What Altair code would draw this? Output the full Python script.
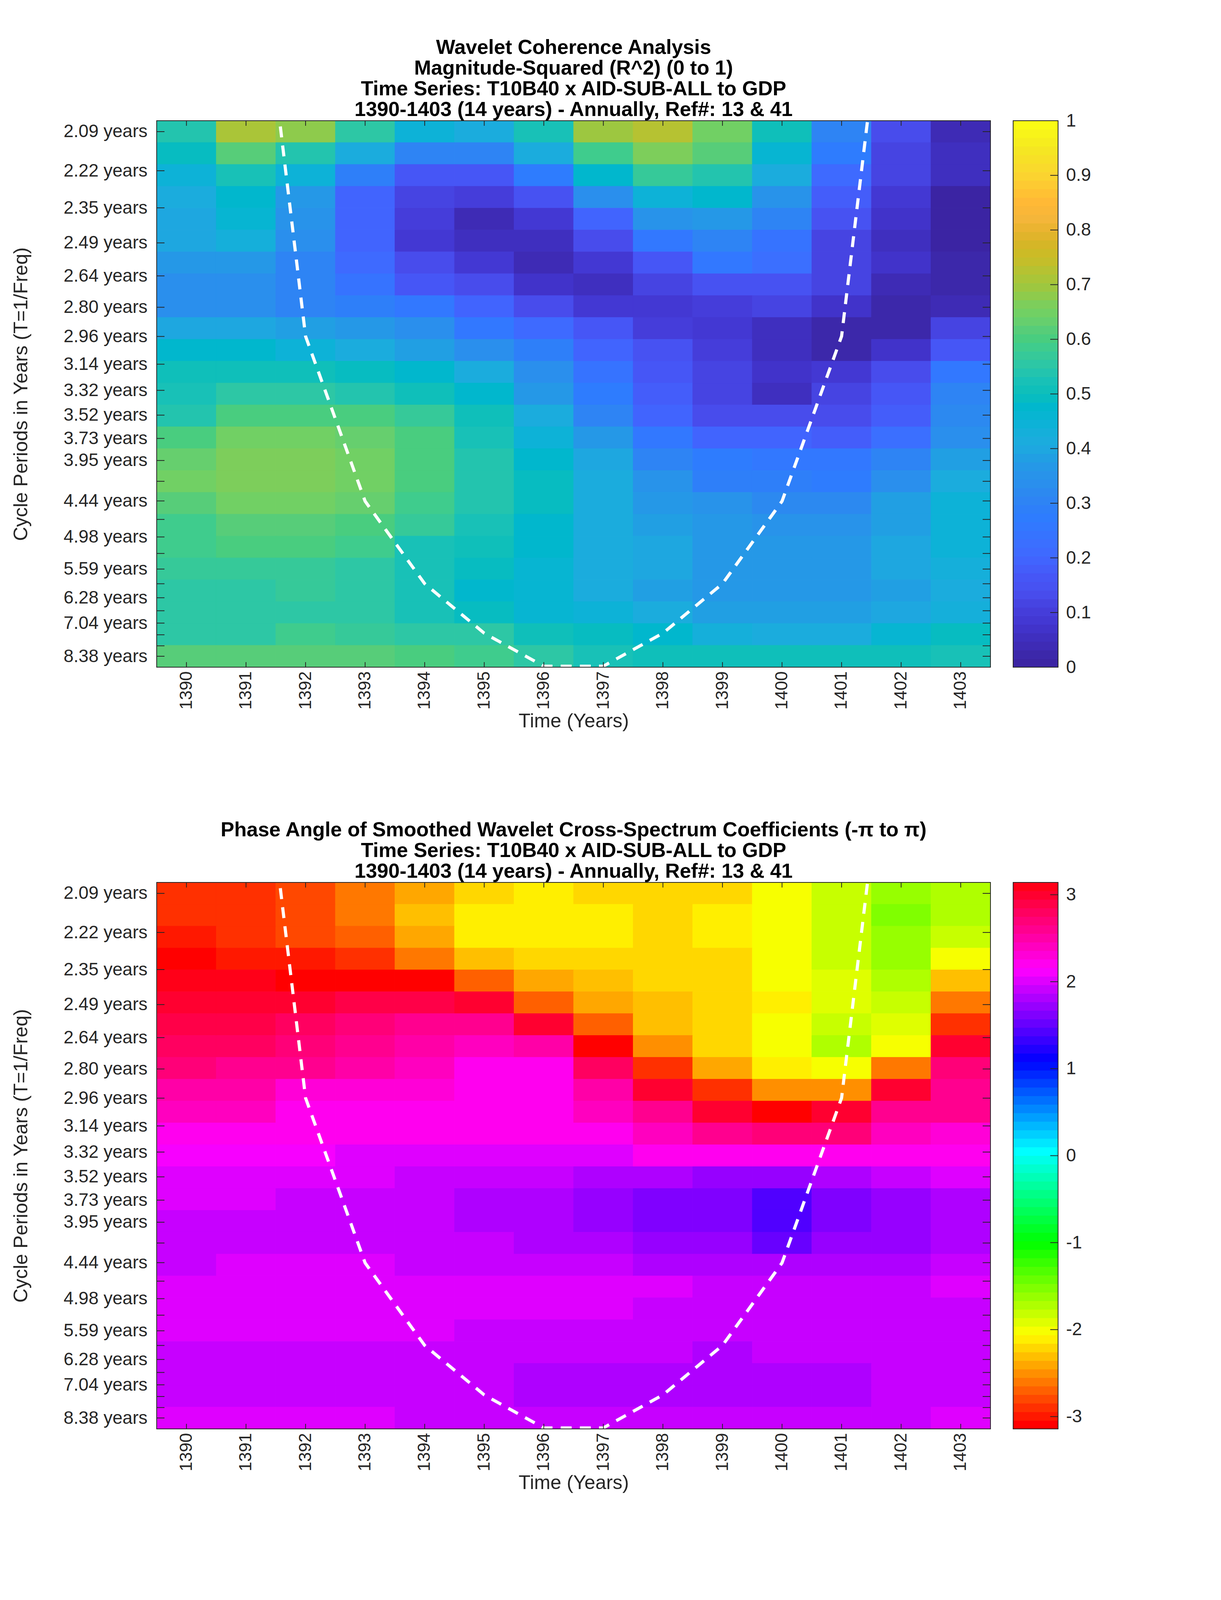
import math
import numpy as np
import pandas as pd
import altair as alt

FONT = "Liberation Sans"
INK = "#262626"
# The photograph stops near 4096 px tall, so the plots are laid out to keep every text inside it.
W, H = 2134, 1399

years = list(range(1390, 1404))
periods = [2.094, 2.218, 2.350, 2.490, 2.638, 2.796, 2.961, 3.137, 3.323, 3.521, 3.730, 3.952, 4.187,
           4.436, 4.699, 4.979, 5.275, 5.589, 5.921, 6.276, 6.646, 7.041, 7.460, 7.904, 8.376]
labelled = [2.094, 2.218, 2.350, 2.490, 2.638, 2.796, 2.961, 3.137, 3.323, 3.521, 3.730, 3.952,
            4.436, 4.979, 5.589, 6.276, 7.041, 8.376]

coherence = [
 [.54,.71,.68,.55,.44,.42,.53,.69,.72,.65,.50,.31,.13,.04],
 [.49,.61,.54,.41,.31,.31,.42,.58,.66,.61,.46,.27,.12,.05],
 [.44,.53,.45,.29,.17,.17,.28,.47,.57,.54,.41,.21,.12,.05],
 [.42,.47,.36,.20,.12,.10,.15,.33,.45,.47,.35,.18,.09,.01],
 [.40,.46,.35,.19,.10,.04,.08,.19,.35,.37,.30,.15,.07,.01],
 [.40,.43,.33,.19,.09,.06,.06,.13,.26,.31,.24,.11,.05,.01],
 [.36,.37,.31,.21,.14,.09,.04,.09,.17,.25,.22,.11,.07,.03],
 [.33,.33,.30,.24,.17,.14,.07,.05,.11,.15,.15,.11,.04,.03],
 [.33,.34,.30,.29,.26,.19,.13,.08,.09,.10,.11,.07,.02,.04],
 [.40,.40,.38,.36,.33,.26,.21,.16,.10,.09,.06,.03,.03,.12],
 [.47,.47,.45,.42,.38,.33,.29,.19,.15,.10,.05,.03,.07,.17],
 [.50,.51,.50,.49,.47,.41,.33,.24,.17,.12,.07,.09,.14,.25],
 [.53,.55,.55,.54,.51,.47,.36,.28,.18,.12,.06,.12,.16,.30],
 [.54,.60,.60,.60,.57,.51,.41,.31,.20,.13,.13,.14,.18,.32],
 [.60,.65,.65,.63,.60,.53,.45,.36,.25,.19,.19,.18,.23,.33],
 [.63,.67,.67,.65,.60,.54,.48,.40,.31,.28,.26,.26,.31,.39],
 [.65,.67,.67,.65,.60,.54,.49,.41,.35,.29,.29,.28,.33,.42],
 [.62,.65,.65,.63,.58,.54,.49,.42,.37,.35,.32,.32,.38,.44],
 [.59,.62,.62,.60,.57,.53,.48,.42,.39,.37,.35,.35,.39,.44],
 [.58,.60,.60,.58,.53,.51,.47,.42,.40,.37,.36,.36,.40,.44],
 [.57,.57,.57,.55,.53,.49,.46,.42,.40,.37,.36,.36,.40,.43],
 [.55,.55,.57,.55,.53,.48,.46,.42,.39,.37,.36,.36,.39,.42],
 [.55,.55,.55,.55,.53,.49,.46,.44,.41,.39,.39,.39,.40,.43],
 [.56,.56,.58,.57,.56,.55,.51,.49,.47,.43,.41,.41,.46,.49],
 [.61,.62,.62,.62,.60,.59,.55,.53,.51,.50,.50,.50,.50,.53],
]

# phase read as the colour bin (0-63) of the -pi..pi bar
phase_bins = [
 [2,2,3,5,7,9,10,9,9,9,11,13,15,14],
 [2,2,3,5,8,10,10,10,9,10,11,13,16,14],
 [1,2,3,4,7,10,10,10,9,10,11,13,15,13],
 [0,1,1,2,5,8,9,9,9,9,11,13,15,11],
 [63,63,0,0,0,4,7,8,9,9,11,12,14,8],
 [62,62,62,61,61,62,4,7,8,9,10,12,13,5],
 [61,61,60,59,58,58,62,4,8,9,11,13,12,2],
 [60,60,59,58,57,56,57,0,6,9,11,14,11,62],
 [59,58,58,57,56,54,54,60,2,7,10,11,5,59],
 [57,57,55,55,55,54,54,57,62,2,6,6,62,58],
 [56,56,54,54,54,54,54,56,58,62,0,62,58,58],
 [54,54,54,54,54,54,54,54,56,58,59,59,56,55],
 [53,53,53,52,52,52,52,52,54,54,54,54,54,54],
 [52,52,52,52,51,51,51,50,50,49,49,50,51,52],
 [52,52,51,51,51,50,50,49,48,48,46,48,49,50],
 [51,51,51,51,51,50,50,49,48,48,46,48,49,50],
 [51,51,51,51,51,51,50,50,49,49,47,49,49,50],
 [51,52,52,52,51,51,51,51,50,50,50,50,50,51],
 [52,52,52,52,52,52,52,52,52,51,51,51,51,52],
 [52,52,52,52,52,52,52,52,51,51,51,51,51,51],
 [52,52,52,52,52,51,51,51,51,51,51,51,51,51],
 [51,51,51,51,51,51,51,51,51,50,51,51,51,51],
 [51,51,51,51,51,51,50,50,50,50,50,50,51,51],
 [51,51,51,51,51,51,50,50,50,50,50,50,51,51],
 [52,52,52,52,51,51,51,51,51,51,51,51,51,52],
]

coi_years = [1391, 1392, 1393, 1394, 1395, 1396, 1397, 1398, 1399, 1400, 1401, 1402]
coi_periods = [1.48, 2.96, 4.44, 5.92, 7.40, 8.88, 8.88, 7.40, 5.92, 4.44, 2.96, 1.48]

cb1_ticks = [0, .1, .2, .3, .4, .5, .6, .7, .8, .9, 1]
cb2_ticks = [-3, -2, -1, 0, 1, 2, 3]

parula_anchor_v = [0,.02,.05,.08,.11,.14,.17,.2,.23,.27,.3,.34,.37,.4,.42,.45,.48,.5,.52,.55,.58,.6,.62,
                   .64,.66,.68,.7,.72,.74,.76,.78,.8,.82,.85,.87,.9,.92,.95,1]
parula_anchor_c = ["#3A22A0","#3C27A8","#3F2EBC","#4236D0","#4640DE","#4850F0","#4658F8","#4066FF","#3A70FF",
                   "#2E7BFF","#2E82F5","#2A90EC","#2499E6","#1EA8E0","#1AADDC","#0BB3D6","#00B8CC","#0BBEBA",
                   "#16C0B9","#2BC6A8","#3BCB92","#48CD80","#5ACD78","#6CD068","#79CF5F","#8ECB4C","#A2C63C",
                   "#B0C435","#C3BE2B","#CDBB25","#D9B428","#E8B42E","#F4B63A","#FFB836","#FFC333","#FBD430",
                   "#F8DC2A","#F4E822","#FBFF12"]


def palette_parula():
    rgb = np.array([[int(c[i:i + 2], 16) for i in (1, 3, 5)] for c in parula_anchor_c], float)
    lv = (np.arange(64) + .5) / 64
    out = []
    for v in lv:
        out.append("#%02X%02X%02X" % tuple(int(round(np.interp(v, parula_anchor_v, rgb[:, k]))) for k in range(3)))
    return out


def palette_hsv():
    out = []
    for i in range(64):
        h = i / 64 * 6
        s = int(h)
        f = h - s
        a, b = round(255 * (1 - f)), round(255 * f)
        r, g, bl = [(255, b, 0), (a, 255, 0), (0, 255, b), (0, a, 255), (b, 0, 255), (255, 0, a)][s]
        out.append("#%02X%02X%02X" % (r, g, bl))
    return out


freqs = [1 / t for t in periods]
step = (freqs[0] - freqs[-1]) / 24
f_top, f_bot = freqs[0] + step / 2, freqs[-1] - step / 2
xscale = alt.Scale(domain=[1389.5, 1403.5], nice=False, zero=False)
yscale = alt.Scale(domain=[f_bot, f_top], nice=False, zero=False)

x_axis = alt.Axis(values=years, format="d", labelAngle=270, labelFont=FONT, labelFontSize=44, labelLimit=800,
                  labelColor=INK, ticks=False, domain=False, grid=False, labelPadding=10,
                  titleFont=FONT, titleFontSize=50, titleColor=INK, titleFontWeight="normal", titleLimit=3000,
                  titlePadding=6, labelOverlap=False, labelBound=False, labelFlush=False)
y_axis = alt.Axis(values=[1 / t for t in labelled], labelExpr="format(1/datum.value,'.2f')+' years'",
                  labelFont=FONT, labelFontSize=46, labelLimit=800, labelColor=INK, ticks=False,
                  domain=False, grid=False, labelPadding=24, titleFont=FONT, titleFontSize=50, titleLimit=3000,
                  titleColor=INK, titleFontWeight="normal", titlePadding=122,
                  labelOverlap=False, labelBound=False, labelFlush=False)
X_TITLE = "Time (Years)"
Y_TITLE = "Cycle Periods in Years (T=1/Freq)"


def X(field):
    return alt.X(field, scale=xscale, title=X_TITLE, axis=x_axis)


def Y(field):
    return alt.Y(field, scale=yscale, title=Y_TITLE, axis=y_axis)


def cells(grid):
    rows = []
    for r, row in enumerate(grid):
        for c, v in enumerate(row):
            rows.append(dict(x0=years[c] - .5, x1=years[c] + .5,
                             y0=f_top - r * step, y1=f_top - (r + 1) * step, v=v))
    return pd.DataFrame(rows)


def panel(grid, colour, title):
    base = alt.Chart(cells(grid)).mark_rect(clip=True, strokeWidth=1).encode(
        x=X("x0:Q"), x2="x1:Q", y=Y("y0:Q"), y2="y1:Q",
        color=alt.Color("v:Q", scale=colour, legend=None),
        stroke=alt.Stroke("v:Q", scale=colour, legend=None),
    )
    coi = alt.Chart(pd.DataFrame({"x": coi_years, "f": [1 / t for t in coi_periods]})).mark_line(
        color="white", strokeWidth=8, strokeDash=[28, 21], clip=True
    ).encode(x=X("x:Q"), y=Y("f:Q"), order="x:Q")
    xt = alt.Chart(pd.DataFrame({"x": years}))
    yt = alt.Chart(pd.DataFrame({"f": freqs}))
    tick = dict(color=INK, strokeWidth=2)
    ticks = [
        xt.mark_rule(**tick).encode(x=X("x:Q"), y=alt.value(0), y2=alt.value(13)),
        xt.mark_rule(**tick).encode(x=X("x:Q"), y=alt.value(H), y2=alt.value(H - 13)),
        yt.mark_rule(**tick).encode(y=Y("f:Q"), x=alt.value(0), x2=alt.value(20)),
        yt.mark_rule(**tick).encode(y=Y("f:Q"), x=alt.value(W), x2=alt.value(W - 20)),
    ]
    frame = alt.Chart(alt.Data(values=[{"a": 1}])).mark_rect(fillOpacity=0, stroke=INK, strokeWidth=2).encode(
        x=alt.value(0), x2=alt.value(W), y=alt.value(0), y2=alt.value(H))
    return alt.layer(base, coi, *ticks, frame).properties(
        width=W, height=H,
        title=alt.TitleParams(text=title, font=FONT, fontSize=52, fontWeight="bold", color="black",
                              anchor="middle", lineHeight=53, offset=0, limit=3000))


def colourbar(lo, hi, colour, tick_values):
    d = (hi - lo) / 64
    df = pd.DataFrame({"a": [lo + i * d for i in range(64)], "b": [lo + (i + 1) * d for i in range(64)],
                       "m": [lo + (i + .5) * d for i in range(64)]})
    cy = alt.Scale(domain=[lo, hi], nice=False, zero=False)
    cb_axis = alt.Axis(orient="right", values=tick_values, labelExpr="toString(datum.value)", labelFont=FONT,
                       labelFontSize=46, labelLimit=400, labelColor=INK, ticks=False, domain=False, grid=False,
                       labelPadding=20, labelOverlap=False, labelBound=False, labelFlush=False)
    bar = alt.Chart(df).mark_rect(clip=True, strokeWidth=1).encode(
        x=alt.value(0), x2=alt.value(115),
        y=alt.Y("a:Q", scale=cy, title=None, axis=cb_axis),
        y2="b:Q",
        color=alt.Color("m:Q", scale=colour, legend=None),
        stroke=alt.Stroke("m:Q", scale=colour, legend=None),
    )
    tk = alt.Chart(pd.DataFrame({"t": [t for t in tick_values if lo < t < hi]})).mark_rule(color=INK, strokeWidth=2).encode(
        x=alt.value(95), x2=alt.value(115), y=alt.Y("t:Q", scale=cy, title=None, axis=cb_axis))
    frame = alt.Chart(alt.Data(values=[{"a": 1}])).mark_rect(fillOpacity=0, stroke=INK, strokeWidth=2).encode(
        x=alt.value(0), x2=alt.value(115), y=alt.value(0), y2=alt.value(H))
    return alt.layer(bar, tk, frame).properties(width=115, height=H)


scale1 = alt.Scale(type="quantize", domain=[0, 1], range=palette_parula())
scale2 = alt.Scale(type="quantize", domain=[-math.pi, math.pi], range=palette_hsv())
phase = [[-math.pi + (b + .5) * 2 * math.pi / 64 for b in row] for row in phase_bins]

title1 = ["Wavelet Coherence Analysis", "Magnitude-Squared (R^2) (0 to 1)",
          "Time Series: T10B40 x AID-SUB-ALL to GDP", "1390-1403 (14 years) - Annually, Ref#: 13 & 41"]
title2 = ["Phase Angle of Smoothed Wavelet Cross-Spectrum Coefficients (-π to π)",
          "Time Series: T10B40 x AID-SUB-ALL to GDP", "1390-1403 (14 years) - Annually, Ref#: 13 & 41"]

row1 = alt.hconcat(panel(coherence, scale1, title1), colourbar(0, 1, scale1, cb1_ticks),
                   spacing=56).resolve_scale(color="independent", stroke="independent")
row2 = alt.hconcat(panel(phase, scale2, title2), colourbar(-math.pi, math.pi, scale2, cb2_ticks),
                   spacing=56).resolve_scale(color="independent", stroke="independent")

chart = alt.vconcat(row1, row2, spacing=227).resolve_scale(
    color="independent", stroke="independent"
).properties(padding={"left": 21, "top": 88, "right": 60, "bottom": 60}).configure_view(stroke=None)

chart.save("out.html", embed_options={"renderer": "svg", "actions": False})
